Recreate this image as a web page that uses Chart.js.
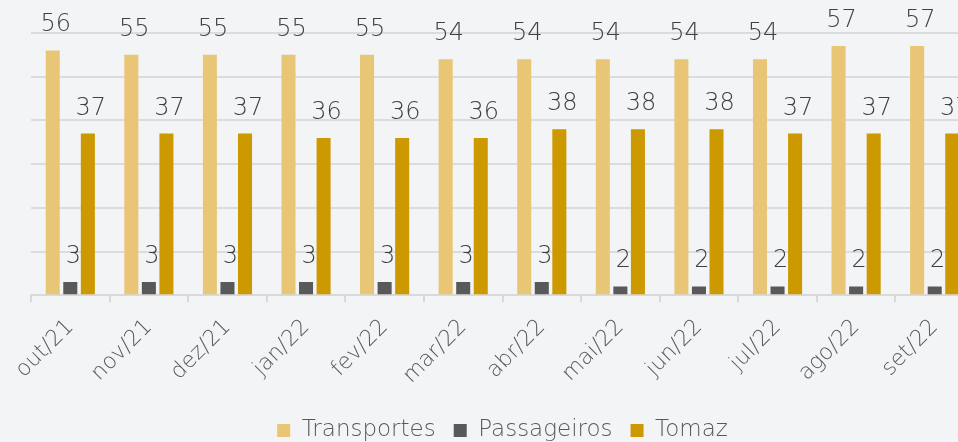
<!DOCTYPE html>
<html>
<head>
<meta charset="utf-8">
<script src="https://cdn.jsdelivr.net/npm/chart.js@4/dist/chart.umd.min.js"></script>
<style>
  html, body { margin: 0; padding: 0; background: #f3f4f6; overflow: hidden; }
  #wrap { width: 1005px; height: 452px; }
</style>
</head>
<body>
<div id="wrap"><canvas id="grafico"></canvas></div>
<script>
// meses e valores
const meses = ['out/21', 'nov/21', 'dez/21', 'jan/22', 'fev/22', 'mar/22',
               'abr/22', 'mai/22', 'jun/22', 'jul/22', 'ago/22', 'set/22'];
const transportes = [56, 55, 55, 55, 55, 54, 54, 54, 54, 54, 57, 57];
const passageiros = [3, 3, 3, 3, 3, 3, 3, 2, 2, 2, 2, 2];
const tomaz = [37, 37, 37, 36, 36, 36, 38, 38, 38, 37, 37, 37];

const fonte = "'DejaVu Sans', sans-serif";

// escreve o valor em cima de cada barra
const rotulos = {
    id: 'rotulos',
    afterDatasetsDraw(chart) {
        const ctx = chart.ctx;
        ctx.save();
        ctx.font = '200 24px ' + fonte;
        ctx.fillStyle = '#404040';
        ctx.textAlign = 'center';
        ctx.textBaseline = 'alphabetic';
        chart.data.datasets.forEach(function (ds, i) {
            chart.getDatasetMeta(i).data.forEach(function (bar, j) {
                ctx.fillText(ds.data[j], bar.x + 3, bar.y - 19);
            });
        });
        ctx.restore();
    }
};

const ctx = document.getElementById('grafico').getContext('2d');
new Chart(ctx, {
    type: 'bar',
    data: {
        labels: meses,
        datasets: [
            { label: 'Transportes', data: transportes, backgroundColor: '#e8c676' },
            { label: 'Passageiros', data: passageiros, backgroundColor: '#595959' },
            { label: 'Tomaz', data: tomaz, backgroundColor: '#cc9900' }
        ]
    },
    options: {
        responsive: true,
        maintainAspectRatio: false,
        animation: false,
        categoryPercentage: 0.67,
        barPercentage: 0.8,
        layout: { padding: { left: 31, right: 31, top: 33, bottom: 0 } },
        plugins: {
            tooltip: { enabled: false },
            legend: {
                position: 'bottom',
                labels: {
                    boxWidth: 13,
                    boxHeight: 13,
                    padding: 18,
                    color: '#595959',
                    font: { family: fonte, size: 23, weight: '200' }
                }
            }
        },
        scales: {
            x: {
                grid: { drawOnChartArea: false, color: '#d9d9d9', lineWidth: 2, tickLength: 7 },
                border: { color: '#d9d9d9', width: 2 },
                ticks: {
                    minRotation: 45,
                    maxRotation: 45,
                    padding: 12,
                    color: '#595959',
                    font: { family: fonte, size: 22, weight: '200' }
                }
            },
            y: {
                min: 0,
                max: 60,
                ticks: { display: false, stepSize: 10 },
                grid: { color: '#dcdcdc', lineWidth: 2, drawTicks: false },
                border: { display: false }
            }
        }
    },
    plugins: [rotulos]
});
</script>
</body>
</html>
